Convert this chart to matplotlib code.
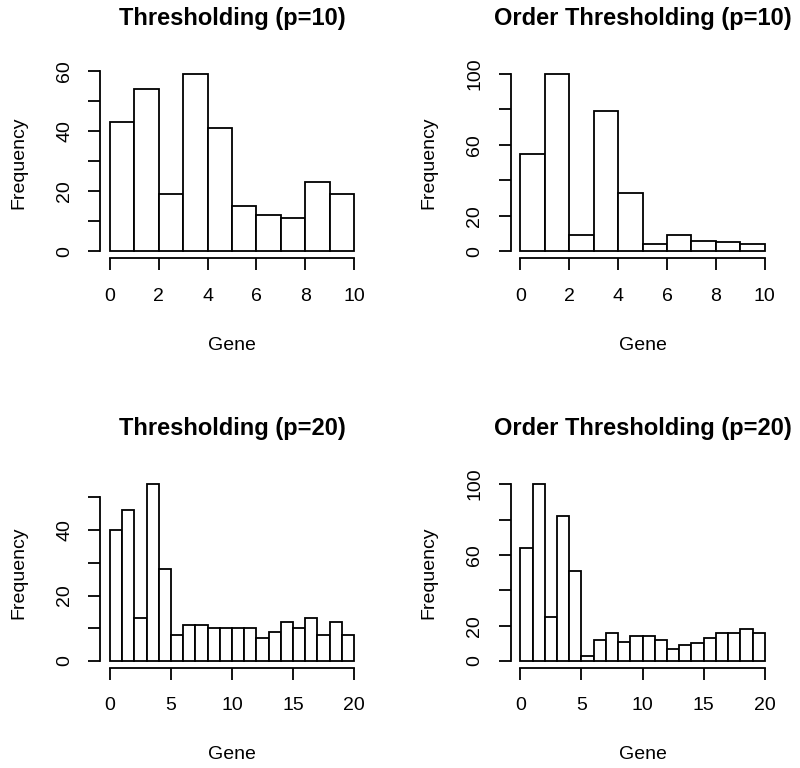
import numpy as np
import matplotlib
matplotlib.use("Agg")
import matplotlib.pyplot as plt

plt.rcParams['font.family'] = ['Liberation Sans', 'DejaVu Sans']

# histogram counts
thr10 = [43, 54, 19, 59, 41, 15, 12, 11, 23, 19]
ord10 = [55, 100, 9, 79, 33, 4, 9, 6, 5, 4]
thr20 = [40, 46, 13, 54, 28, 8, 11, 11, 10, 10, 10, 10, 7, 9, 12, 10, 13, 8, 12, 8]
ord20 = [64, 100, 25, 82, 51, 3, 12, 16, 11, 14, 14, 12, 7, 9, 10, 13, 16, 16, 18, 16]

titles = ["Thresholding (p=10)", "Order Thresholding (p=10)",
          "Thresholding (p=20)", "Order Thresholding (p=20)"]
xticks10 = [0, 2, 4, 6, 8, 10]
xticks20 = [0, 5, 10, 15, 20]
yticks_a = [0, 10, 20, 30, 40, 50, 60]
ylabs_a = ["0", "", "20", "", "40", "", "60"]
yticks_b = [0, 20, 40, 60, 80, 100]
ylabs_b = ["0", "20", "", "60", "", "100"]
yticks_c = [0, 10, 20, 30, 40, 50]
ylabs_c = ["0", "", "20", "", "40", ""]

W, H = 800, 768
fig = plt.figure(figsize=(8, 7.68), dpi=100)


def rect(l, r, t, b):
    return [l / W, 1 - b / H, (r - l) / W, (b - t) / H]


def rhist(pos, counts, title, xt, yt, yl):
    ax = fig.add_axes(pos)
    counts = np.array(counts)
    edges = np.arange(len(counts) + 1)
    ax.bar(edges[:-1], counts, width=1, align='edge', color='white',
           edgecolor='black', linewidth=1.3)
    n = len(counts)
    ax.set_xlim(-0.04 * n, n * 1.04)
    m = counts.max()
    ax.set_ylim(-0.04 * m, m * 1.04)
    ax.set_xticks(xt)
    ax.set_xticklabels([str(v) for v in xt])
    ax.set_yticks(yt)
    ax.set_yticklabels(yl)
    for s in ['top', 'right']:
        ax.spines[s].set_visible(False)
    ax.spines['left'].set_bounds(yt[0], yt[-1])
    ax.spines['bottom'].set_bounds(xt[0], xt[-1])
    for s in ['left', 'bottom']:
        ax.spines[s].set_linewidth(1.3)
    ax.tick_params(direction='out', length=8.5, width=1.3, labelsize=14)
    ax.tick_params(axis='x', pad=12.5)
    ax.tick_params(axis='y', pad=11, labelrotation=90)
    for lab in ax.get_yticklabels():
        lab.set_va('center')
    # y=1.0 keeps the title from jumping over the rotated tick labels
    ax.set_title(title, fontsize=17, fontweight='bold', pad=30, y=1.0)
    ax.set_xlabel("Gene", fontsize=14, labelpad=23)
    ax.set_ylabel("Frequency", fontsize=14, labelpad=21)
    return ax


rhist(rect(100.2, 363.8, 66.6, 258.4), thr10, titles[0], xticks10, yticks_a, ylabs_a)
rhist(rect(510.5, 774.5, 66.6, 258.4), ord10, titles[1], xticks10, yticks_b, ylabs_b)
rhist(rect(100.2, 363.8, 477.1, 668.1), thr20, titles[2], xticks20, yticks_c, ylabs_c)
rhist(rect(510.5, 774.5, 477.1, 668.1), ord20, titles[3], xticks20, yticks_b, ylabs_b)

fig.savefig("out.png", dpi=100)
